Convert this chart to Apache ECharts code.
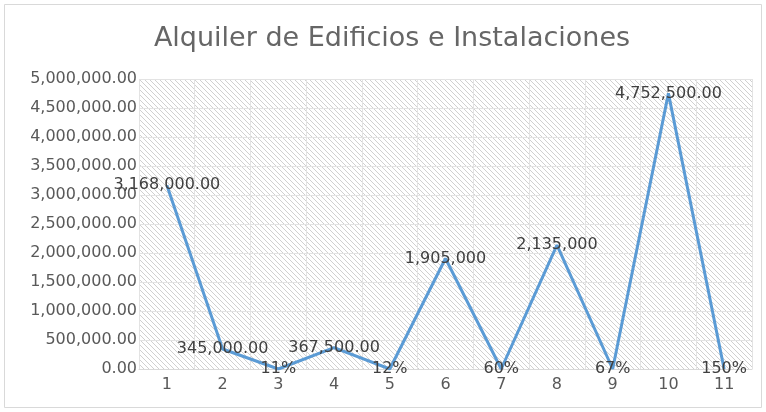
<!DOCTYPE html>
<html>
<head>
<meta charset="utf-8">
<script src="https://cdn.jsdelivr.net/npm/echarts@6/dist/echarts.min.js"></script>
<style>
  html, body { margin: 0; padding: 0; background: #fff; }
  #chart { width: 766px; height: 412px; }
</style>
</head>
<body>
<div id="chart"></div>
<script>
// Data
var categories = ['1', '2', '3', '4', '5', '6', '7', '8', '9', '10', '11'];
var values = [3168000, 345000, 0.11, 367500, 0.12, 1905000, 0.6, 2135000, 0.67, 4752500, 1.5];
var labelTexts = ['3,168,000.00', '345,000.00', '11%', '367,500.00', '12%', '1,905,000',
                  '60%', '2,135,000', '67%', '4,752,500.00', '150%'];

// Hatched plot background, like the Excel pattern fill
function hatch() {
  var n = 5;
  var c = document.createElement('canvas');
  c.width = n; c.height = n;
  var ctx = c.getContext('2d');
  ctx.fillStyle = '#ffffff';
  ctx.fillRect(0, 0, n, n);
  ctx.strokeStyle = '#d0d0d0';
  ctx.lineWidth = 1;
  ctx.beginPath();
  ctx.moveTo(-1, -1); ctx.lineTo(n + 1, n + 1);
  ctx.moveTo(-1, n - 1); ctx.lineTo(1, n + 1);
  ctx.moveTo(n - 1, -1); ctx.lineTo(n + 1, 1);
  ctx.stroke();
  return c;
}

function fmt(v) {
  return v.toLocaleString('en-US', { minimumFractionDigits: 2, maximumFractionDigits: 2 });
}

var font = 'DejaVu Sans, sans-serif';

var option = {
  animation: false,
  title: {
    text: 'Alquiler de Edificios e Instalaciones',
    left: 387,
    textAlign: 'center',
    top: 20,
    textStyle: { fontFamily: font, fontSize: 27, fontWeight: 'normal', color: '#666666' }
  },
  graphic: [{
    type: 'rect',
    shape: { x: 4.5, y: 4.5, width: 757, height: 403 },
    style: { fill: 'none', stroke: '#d9d9d9', lineWidth: 1 },
    silent: true
  }],
  grid: {
    left: 139, right: 14, top: 79, bottom: 43,
    show: true,
    borderWidth: 0,
    backgroundColor: { image: hatch(), repeat: 'repeat' }
  },
  xAxis: {
    type: 'category',
    data: categories,
    boundaryGap: true,
    axisLine: { lineStyle: { color: '#d9d9d9' } },
    axisTick: { show: false },
    axisLabel: { color: '#595959', fontFamily: font, fontSize: 16, margin: 8 },
    splitLine: { show: true, interval: 0, lineStyle: { color: '#e3e3e3' } }
  },
  yAxis: {
    type: 'value',
    min: 0, max: 5000000, interval: 500000,
    axisLine: { show: false },
    axisTick: { show: false },
    axisLabel: { color: '#595959', fontFamily: font, fontSize: 16, margin: 2, formatter: fmt },
    splitLine: { lineStyle: { color: '#e3e3e3' } }
  },
  series: [{
    type: 'line',
    data: values,
    symbol: 'circle',
    symbolSize: 2,
    showAllSymbol: true,
    itemStyle: { color: 'rgba(0,0,0,0)', borderWidth: 0 },
    lineStyle: { color: '#5b9bd5', width: 3 },
    label: {
      show: true,
      position: 'inside',
      color: '#404040',
      fontFamily: font,
      fontSize: 16,
      formatter: function (p) { return labelTexts[p.dataIndex]; }
    },
    labelLayout: { hideOverlap: false }
  }]
};

echarts.init(document.getElementById('chart')).setOption(option);
</script>
</body>
</html>
